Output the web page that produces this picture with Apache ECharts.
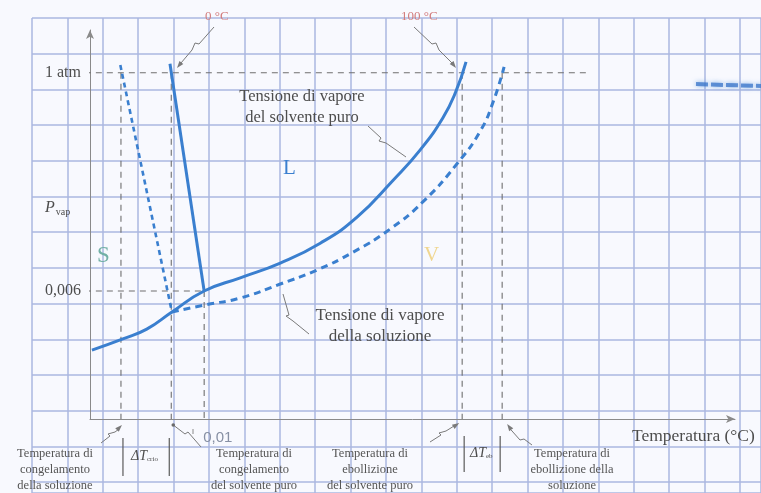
<!DOCTYPE html>
<html>
<head>
<meta charset="utf-8">
<title>Diagramma di fase: solvente puro e soluzione</title>
<script src="https://cdn.jsdelivr.net/npm/echarts@6/dist/echarts.min.js"></script>
<style>
  html, body { margin: 0; padding: 0; background: #f8f9fe; }
  #chart { width: 761px; height: 493px; }
</style>
</head>
<body>
<div id="chart"></div>
<script>
// Schematic units: temperature 0..100 along the horizontal axis, vapour pressure 0..100 upward.

// Vapour pressure of the pure solvent (sublimation branch + liquid branch)
const solventVapourCurve = [
  [0.3, 17.7], [5.1, 20.6], [8.8, 23.1], [12.7, 27.5], [17.7, 32.9],
  [23.3, 36.3], [29.5, 40.1], [35.7, 45.2], [41.4, 51.9], [47.0, 61.4],
  [51.2, 69.2], [54.7, 77.4], [56.7, 84.1], [58.3, 91.8]
];
// Vapour pressure of the solution
const solutionVapourCurve = [
  [12.7, 27.5], [17.8, 29.3], [23.3, 31.1], [29.5, 34.7], [35.2, 38.3],
  [40.8, 42.9], [46.5, 48.8], [51.6, 55.8], [56.9, 65.6], [60.5, 74.0],
  [62.5, 81.5], [64.2, 90.5]
];
// Solid/liquid equilibrium lines
const solventFusionLine = [[12.4, 91.3], [17.7, 32.9]];
const solutionFusionLine = [[4.7, 91.0], [12.7, 27.5]];

// Reference levels
const pressureLevels = [89.0, 32.9];            // 1 atm, triple point
const pressureLabels = ['1 atm', '0,006'];
const freezeTemps = [4.8, 12.6];                 // solution, pure solvent
const boilTemps = [57.7, 63.9];                  // pure solvent, solution
const tripleTemp = 17.7;
const tripleLabel = '0,01';
const oneAtmGuideEnd = 77;
const guideStart = -0.8;

const BLUE = '#3a7fcf';
const GUIDE = '#6f6f6f';
const SERIF = '"Liberation Serif", "DejaVu Serif", serif';

// Dashed construction lines
const guides = [
  [[guideStart, pressureLevels[0]], [oneAtmGuideEnd, pressureLevels[0]]],
  [[guideStart, pressureLevels[1]], [tripleTemp, pressureLevels[1]]],
  [[freezeTemps[0], pressureLevels[0]], [freezeTemps[0], 0]],
  [[freezeTemps[1], pressureLevels[0]], [freezeTemps[1], 0]],
  [[tripleTemp, pressureLevels[1]], [tripleTemp, 0]],
  [[boilTemps[0], pressureLevels[0]], [boilTemps[0], 0]],
  [[boilTemps[1], pressureLevels[0]], [boilTemps[1], 0]]
];

const chart = echarts.init(document.getElementById('chart'), null, { renderer: 'canvas' });

const paperLine = { color: '#abb7e1', width: 1.5 };

const guideSeries = guides.map(seg => ({
  type: 'line', xAxisIndex: 1, yAxisIndex: 1, data: seg, symbol: 'none', clip: false,
  lineStyle: { color: GUIDE, width: 1.1, type: [6, 5] }, z: 3, silent: true
}));

chart.setOption({
  animation: false,
  backgroundColor: '#f8f9fe',
  grid: [
    { left: 32, top: 18, right: 0, bottom: 0 },         // squared paper
    { left: 90, top: 30, right: 26, bottom: 74 }        // diagram
  ],
  xAxis: [
    { gridIndex: 0, type: 'value', min: 0, max: 729 / 35.4, interval: 1,
      axisLine: { show: false }, axisTick: { show: false }, axisLabel: { show: false },
      splitLine: { show: true, lineStyle: paperLine } },
    { gridIndex: 1, type: 'value', min: 0, max: 100,
      axisLine: { show: true, symbol: ['none', 'arrow'], symbolSize: [6, 9], lineStyle: { color: '#8a8a8a', width: 1 } },
      axisTick: { show: false }, axisLabel: { show: false }, splitLine: { show: false } }
  ],
  yAxis: [
    { gridIndex: 0, type: 'value', inverse: true, min: 0, max: 475 / 35.7, interval: 1,
      axisLine: { show: false }, axisTick: { show: false }, axisLabel: { show: false },
      splitLine: { show: true, lineStyle: paperLine } },
    { gridIndex: 1, type: 'value', min: 0, max: 100,
      axisLine: { show: true, symbol: ['none', 'arrow'], symbolSize: [6, 9], lineStyle: { color: '#8a8a8a', width: 1 } },
      axisTick: { show: false }, axisLabel: { show: false }, splitLine: { show: false } }
  ],
  series: guideSeries.concat([
    { name: 'Tensione di vapore del solvente puro', type: 'line', xAxisIndex: 1, yAxisIndex: 1,
      data: solventVapourCurve, smooth: 0.5, symbol: 'none', clip: false,
      lineStyle: { color: BLUE, width: 3 }, z: 5 },
    { name: 'Tensione di vapore della soluzione', type: 'line', xAxisIndex: 1, yAxisIndex: 1,
      data: solutionVapourCurve, smooth: 0.5, symbol: 'none', clip: false,
      lineStyle: { color: BLUE, width: 3, type: [7, 5] }, z: 5 },
    { name: 'Fusione solvente puro', type: 'line', xAxisIndex: 1, yAxisIndex: 1,
      data: solventFusionLine, symbol: 'none', clip: false,
      lineStyle: { color: BLUE, width: 3 }, z: 5 },
    { name: 'Fusione soluzione', type: 'line', xAxisIndex: 1, yAxisIndex: 1,
      data: solutionFusionLine, symbol: 'none', clip: false,
      lineStyle: { color: BLUE, width: 2.6, type: [5, 4] }, z: 5 }
  ])
});

// Annotation layer (labels, leaders, brackets)
const px = (x, y) => chart.convertToPixel({ gridIndex: 1 }, [x, y]);

function text(x, y, str, opt) {
  return { type: 'text', x: x, y: y, z: 20, silent: true,
    style: Object.assign({ text: str, font: '13px ' + SERIF, fill: '#4d4d4d',
      align: 'left', verticalAlign: 'middle' }, opt || {}) };
}
function leader(points, color) {
  return { type: 'polyline', z: 19, silent: true, shape: { points: points },
    style: { stroke: color || '#7a7a7a', lineWidth: 1, fill: null } };
}
function arrowHead(tip, from, color) {
  const a = Math.atan2(tip[1] - from[1], tip[0] - from[0]);
  const L = 7, W = 2.5;
  const bx = tip[0] - L * Math.cos(a), by = tip[1] - L * Math.sin(a);
  return { type: 'polygon', z: 19, silent: true,
    shape: { points: [tip, [bx + W * Math.sin(a), by - W * Math.cos(a)], [bx - W * Math.sin(a), by + W * Math.cos(a)]] },
    style: { fill: color || '#7a7a7a' } };
}
function bar(x, y1, y2) {
  return { type: 'line', z: 19, silent: true, shape: { x1: x, y1: y1, x2: x, y2: y2 },
    style: { stroke: '#5a5a5a', lineWidth: 1.2 } };
}

const g = [];
// pressure labels next to the axis
pressureLevels.forEach((p, i) => {
  const pt = px(0, p);
  g.push(text(pt[0] - 9, pt[1], pressureLabels[i], { align: 'right', font: '16px ' + SERIF }));
});
g.push(text(45, 208, '{p|P}{s|vap}', { rich: {
  p: { font: 'italic 16px ' + SERIF, fill: '#4d4d4d' },
  s: { font: '10px ' + SERIF, fill: '#4d4d4d', padding: [9, 0, 0, 1] } } }));

// triple point temperature
const tp = px(tripleTemp, 0);
g.push(text(tp[0] - 1, 438, tripleLabel, { font: '15px "Liberation Sans", sans-serif', fill: '#8790a4' }));
g.push({ type: 'line', z: 19, silent: true, shape: { x1: 193, y1: 429, x2: 193, y2: 434 }, style: { stroke: '#8a8a8a', lineWidth: 1 } });

// 0 °C and 100 °C callouts
g.push(text(205, 17, '0 °C', { fill: '#d27c7c', font: '13px ' + SERIF }));
g.push(leader([[214, 27], [199, 44], [195, 43], [192, 50], [181, 63]]));
g.push(arrowHead([177, 68], [181, 63]));
g.push(text(401, 17, '100 °C', { fill: '#d27c7c', font: '13px ' + SERIF }));
g.push(leader([[414, 27], [432, 44], [436, 43], [439, 50], [452, 63]]));
g.push(arrowHead([456, 68], [452, 63]));

// curve captions
g.push(text(302, 107, 'Tensione di vapore\ndel solvente puro', { align: 'center', lineHeight: 21, font: '16.5px ' + SERIF }));
g.push(leader([[368, 126], [381, 138], [379, 141], [386, 143], [406, 157]]));
g.push(text(380, 326, 'Tensione di vapore\ndella soluzione', { align: 'center', lineHeight: 21, font: '17px ' + SERIF }));
g.push(leader([[283, 294], [289, 315], [286, 316], [293, 321], [309, 334]]));

// phase regions
g.push(text(283, 168, 'L', { font: '21px ' + SERIF, fill: BLUE }));
g.push(text(97, 256, 'S', { font: '23px ' + SERIF, fill: '#72b0a6' }));
g.push(text(424, 255, 'V', { font: '21px ' + SERIF, fill: '#f0d690' }));

// horizontal axis title
g.push(text(632, 436, 'Temperatura (°C)', { font: '17.5px ' + SERIF }));

// bottom captions
const small = { align: 'center', lineHeight: 16, font: '12.5px ' + SERIF, fill: '#555', verticalAlign: 'top' };
g.push(text(55, 446, 'Temperatura di\ncongelamento\ndella soluzione', small));
g.push(text(254, 446, 'Temperatura di\ncongelamento\ndel solvente puro', small));
g.push(text(370, 446, 'Temperatura di\nebollizione\ndel solvente puro', small));
g.push(text(572, 446, 'Temperatura di\nebollizione della\nsoluzione', small));

const fS = px(freezeTemps[0], 0), fP = px(freezeTemps[1], 0);
const bP = px(boilTemps[0], 0), bS = px(boilTemps[1], 0);
g.push(leader([[101, 443], [110, 436], [108, 434], [115, 432], [119, 429]]));
g.push(arrowHead([fS[0] + 1, 425], [116, 431]));
g.push(leader([[fP[0] + 2, 425], [185, 434], [188, 432], [201, 447]]));
g.push({ type: 'circle', z: 19, silent: true, shape: { cx: fP[0] + 2, cy: 425, r: 1.8 }, style: { fill: '#6a6a6a' } });
g.push(leader([[430, 442], [441, 435], [439, 433], [446, 431], [454, 426]]));
g.push(arrowHead([bP[0] - 3, 423], [453, 427]));
g.push(leader([[bS[0] + 9, 430], [520, 440], [524, 439], [532, 445]]));
g.push(arrowHead([bS[0] + 5, 424], [bS[0] + 10, 431]));

// temperature differences
g.push(bar(fS[0] + 2, 438, 476), bar(fP[0] - 2, 438, 476));
g.push(text(131, 456, '{d|ΔT}{s|crio}', { rich: {
  d: { font: 'italic 14px ' + SERIF, fill: '#4d4d4d' },
  s: { font: '7px ' + SERIF, fill: '#4d4d4d', padding: [7, 0, 0, 0] } } }));
g.push(bar(bP[0] + 2, 436, 472), bar(bS[0] - 2, 436, 472));
g.push(text(470, 453, '{d|ΔT}{s|eb}', { rich: {
  d: { font: 'italic 14px ' + SERIF, fill: '#4d4d4d' },
  s: { font: '7px ' + SERIF, fill: '#4d4d4d', padding: [7, 0, 0, 0] } } }));

// ink smear on the right-hand margin
g.push({ type: 'polyline', z: 2, silent: true, shape: { points: [[696, 84], [725, 85], [761, 86]] },
  style: { stroke: 'rgba(55,115,200,0.75)', lineWidth: 4, lineDash: [12, 3], fill: null,
    shadowBlur: 5, shadowColor: 'rgba(70,140,220,0.8)' } });

chart.setOption({ graphic: g });
</script>
</body>
</html>
